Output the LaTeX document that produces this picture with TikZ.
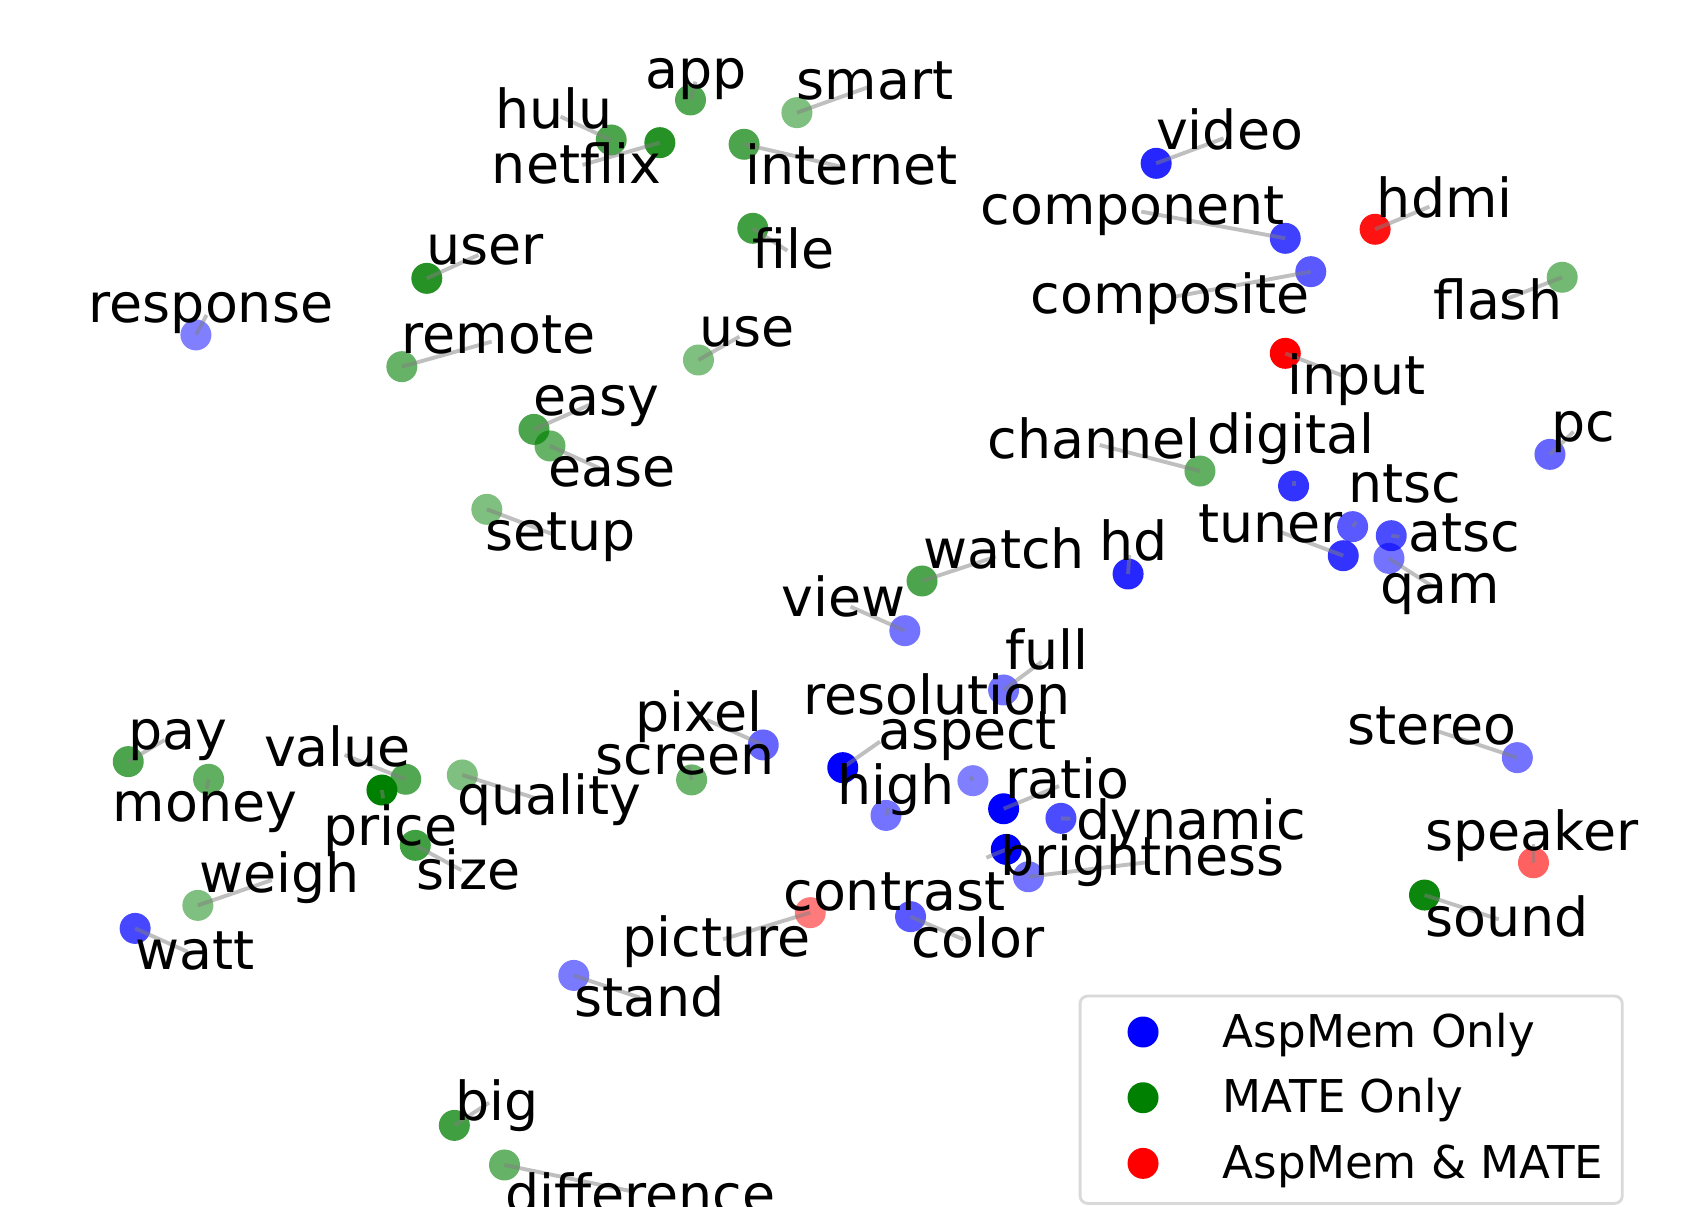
\documentclass[tikz,border=0pt]{standalone}
\usepackage{fontspec}
\setmainfont{DejaVu Sans}
\begin{document}
\begin{tikzpicture}[x=1pt,y=-1pt,
  dotnode/.style={circle,minimum size=28.8pt,inner sep=0pt,draw=none},
  leader/.style={draw=gray,draw opacity=0.5,line width=3.6pt},
  wordlabel/.style={anchor=base west,inner sep=0pt,font=\fontsize{50}{60}\selectfont},
  legtext/.style={anchor=base west,inner sep=0pt,font=\fontsize{42}{50}\selectfont},
  legbox/.style={draw=gray!30,line width=2.6pt,rounded corners=7pt,fill=white,fill opacity=0.8}]
\definecolor{cb}{RGB}{0,0,255}
\definecolor{cg}{RGB}{0,128,0}
\definecolor{cr}{RGB}{255,0,0}
\fill[white] (0,0) rectangle (1568,1121);
\useasboundingbox (0,0) rectangle (1568,1121);
\def\data{
hulu/cg/0.7/568.1/130.1/460/119.3/521/108.4,
netflix/cg/0.85/613.3/132.6/457/170.4/541.4/153.3,
app/cg/0.68/641.8/92.9/600/82.1/646.4/75.9,
smart/cg/0.5/740.7/104.7/740.4/92.9/806.5/81.2,
internet/cg/0.7/691.6/134.1/692.4/171.9/781.6/154.9,
file/cg/0.75/699.7/212.2/699.5/249.4/731.8/233,
user/cg/0.85/396.7/258.7/396.4/246.3/444.7/237,
response/cb/0.5/182.1/311.3/82.3/299.9/192/292.8,
remote/cg/0.6/373.5/340.8/373.3/328.4/457/317.5,
use/cg/0.5/649.2/334.6/649.7/322.2/687.3/312.9,
easy/cg/0.7/496.3/399.1/496/386/547.8/376.4,
ease/cg/0.6/511.2/414.5/509.2/452.3/557.5/435.3,
setup/cg/0.5/452.5/473.4/451/511.2/515.8/497.3,
video/cb/0.85/1074.6/151.8/1074.3/139.4/1137.2/128.6,
component/cb/0.75/1194.6/221.5/911.2/209.1/1060.8/196.7,
composite/cb/0.65/1218.3/252.5/958/291.2/1091.9/275.7,
hdmi/cr/0.93/1278.1/213.1/1279.6/202/1328.6/192.1,
flash/cg/0.55/1452/257.7/1331.8/296.8/1401.7/277.3,
input/cr/1/1194.6/328.4/1196.2/367.1/1250.3/350.1,
channel/cg/0.62/1115.3/437.8/917.6/426/1022/413.6,
digital/cb/0.8/1202.3/451.7/1122.1/421.4/1202.3/447,
pc/cb/0.6/1440.6/422.3/1441.5/410.5/1462.5/401.2,
ntsc/cb/0.65/1257.2/489.5/1253/467.2/1260.6/485,
tuner/cb/0.8/1248.5/516.5/1113.6/504.4/1189.4/494.2,
atsc/cb/0.7/1293.1/497.9/1308.6/512.7/1300.7/498.8,
qam/cb/0.55/1291/519/1283.1/560.8/1332/545.3,
hd/cb/0.85/1048.5/533.5/1021.5/520.5/1049.6/515.8,
watch/cg/0.7/857/540/857.8/528.2/925.6/517.4,
view/cb/0.55/841/586.2/726.2/573.2/790.5/563.9,
full/cb/0.55/932.8/641.3/934.3/622.7/968.3/615,
resolution/cb/0.5/904.3/725.6/746.8/664.5/902/722,
pixel/cb/0.6/709.4/692.4/590.3/680/657.1/669.2,
screen/cg/0.58/642.8/724.9/553.7/720.3/640/712,
aspect/cb/1/783.3/713.5/815.9/697/817.9/689.3,
high/cb/0.55/823.5/757.9/777.8/747.6/826/750.7,
ratio/cb/1/932.8/751.7/934.3/742/984.3/730.6,
dynamic/cb/0.7/986.1/760.6/1000/780.2/995/761,
contrast/cb/1/935.3/789.5/728/845.8/916.8/797.2,
brightness/cb/0.55/955.9/814.9/930/813.6/1068/801.2,
picture/cr/0.52/753.1/848.3/578.6/888.6/672/873,
color/cb/0.65/846.3/852/847.2/890.1/895.4/873.1,
stand/cb/0.52/533.3/906.6/533.4/944.4/594.8/927.3,
pay/cg/0.7/119.2/707.9/119/697/153/687.8,
money/cg/0.62/193.9/724.3/104.7/763.1/192/733,
value/cg/0.68/377.1/724.3/245.2/712.6/320.2/701.7,
price/cg/1/355/734.3/300.4/785.7/356/742,
quality/cg/0.5/429.7/720.3/425/756.9/498/742,
size/cg/0.75/386/785.7/386.8/826.6/428.7/808.7,
weigh/cg/0.5/183.9/841.5/184.8/829.7/252.6/818,
watt/cb/0.72/125.6/862.9/126/901/174.3/884.6,
big/cg/0.75/422.3/1046/423.1/1041.9/454.6/1024.9,
difference/cg/0.6/468.9/1082.8/469.4/1128/585.9/1107,
stereo/cb/0.55/1410.3/704.2/1251.8/692.4/1337.3/680,
speaker/cr/0.62/1425.3/801.9/1324.9/790.1/1425.3/784.8,
sound/cg/0.95/1324/831.9/1324.9/870/1393/854.5}
% dots
\foreach \n/\c/\a/\dx/\dy/\lx/\ly/\ex/\ey in \data {
  \node[dotnode,fill=\c,fill opacity=\a] (d\n) at (\dx,\dy) {};
}
% leader lines
\foreach \n/\c/\a/\dx/\dy/\lx/\ly/\ex/\ey in \data {
  \coordinate (e\n) at (\ex,\ey);
  \draw[leader] (d\n.center) -- (e\n);
}
% labels
\foreach \n/\c/\a/\dx/\dy/\lx/\ly/\ex/\ey in \data {
  \node[wordlabel] (l\n) at (\lx,\ly) {\n};
}
% legend
\draw[legbox] (1003.9,925.8) rectangle (1507.8,1118.5);
\node[dotnode,fill=cb] (legA) at (1062.4,959.2) {};
\node[dotnode,fill=cg] (legB) at (1062.4,1020.3) {};
\node[dotnode,fill=cr] (legC) at (1062.4,1081.3) {};
\node[legtext] (legAt) at (1136.5,973.8) {AspMem Only};
\node[legtext] (legBt) at (1136.5,1034.2) {MATE Only};
\node[legtext] (legCt) at (1136.5,1095.5) {AspMem \& MATE};
\end{tikzpicture}
\end{document}
